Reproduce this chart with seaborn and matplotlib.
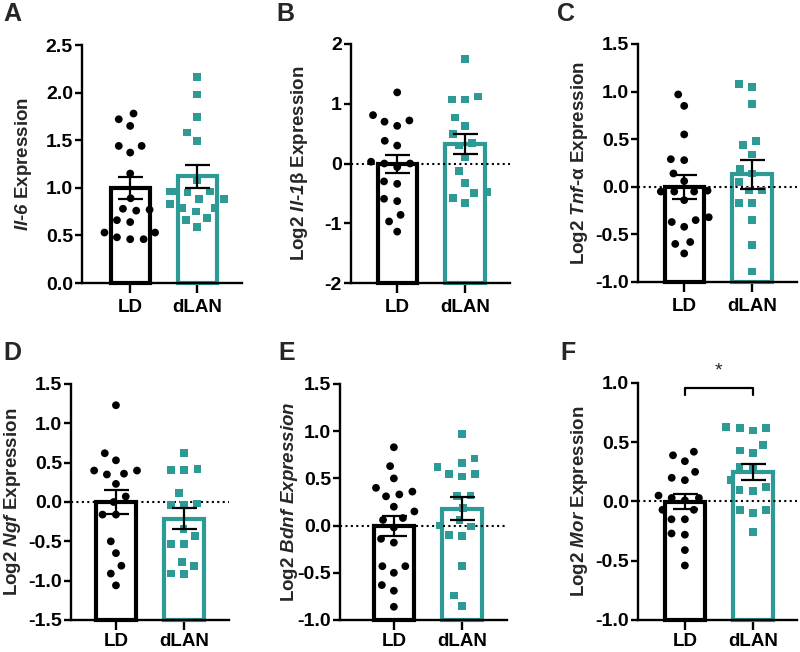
import numpy as np
import pandas as pd
import matplotlib
matplotlib.use("Agg")
import matplotlib.pyplot as plt
import seaborn as sns

sns.set_theme(style="ticks")
plt.rcParams['font.family'] = ['Liberation Sans', 'DejaVu Sans']
plt.rcParams['font.weight'] = 'bold'
plt.rcParams['axes.unicode_minus'] = False
plt.rcParams['mathtext.fontset'] = 'custom'
plt.rcParams['mathtext.rm'] = 'Liberation Sans'
plt.rcParams['mathtext.it'] = 'Liberation Sans:italic'
plt.rcParams['mathtext.bf'] = 'Liberation Sans:bold'
plt.rcParams['mathtext.bfit'] = 'Liberation Sans:bold:italic'

groups = ["LD", "dLAN"]
panel_letters = ["A", "B", "C", "D", "E", "F"]

# ---- data ----
a_ld = [1.78, 1.72, 1.65, 1.44, 1.44, 1.37, 1.15, 0.89, 0.78, 0.76, 0.77, 0.64, 0.66, 0.53, 0.53, 0.46, 0.46, 0.48]
a_dlan = [2.16, 1.98, 1.74, 1.58, 1.49, 1.08, 0.96, 0.96, 0.95, 0.96, 0.88, 0.88, 0.79, 0.79, 0.75, 0.83, 0.68, 0.66, 0.59]
b_ld = [1.19, 0.72, 0.81, 0.70, 0.63, 0.38, 0.30, 0.03, 0.0, 0.0, -0.06, -0.30, -0.34, -0.59, -0.63, -0.86, -0.97, -1.14]
b_dlan = [1.75, 1.12, 1.07, 1.07, 0.77, 0.63, 0.49, 0.30, 0.34, 0.11, -0.13, -0.32, -0.50, -0.48, -0.58, -0.66]
c_ld = [0.97, 0.85, 0.55, 0.29, 0.28, 0.14, 0.06, -0.04, -0.05, -0.05, -0.05, -0.14, -0.35, -0.32, -0.37, -0.42, -0.58, -0.60, -0.70]
c_dlan = [1.08, 1.05, 0.87, 0.48, 0.44, 0.34, 0.19, 0.14, 0.05, -0.04, -0.04, -0.17, -0.17, -0.35, -0.61, -0.89]
d_ld = [1.23, 0.62, 0.53, 0.40, 0.35, 0.36, 0.40, 0.23, 0.07, 0.0, -0.16, -0.16, -0.50, -0.65, -0.81, -0.91, -1.06]
d_dlan = [0.62, 0.41, 0.42, 0.41, 0.11, -0.02, -0.04, -0.04, -0.34, -0.43, -0.53, -0.53, -0.81, -0.76, -0.92, -0.91]
e_ld = [0.83, 0.63, 0.40, 0.50, 0.31, 0.36, 0.33, 0.20, 0.15, 0.08, 0.06, -0.02, -0.18, -0.14, -0.43, -0.43, -0.50, -0.63, -0.69, -0.86]
e_dlan = [0.97, 0.71, 0.66, 0.62, 0.52, 0.55, 0.55, 0.31, 0.32, 0.19, 0.06, 0.0, -0.01, -0.10, -0.11, -0.43, -0.74, -0.85]
f_ld = [0.39, 0.42, 0.34, 0.20, 0.25, 0.18, 0.05, 0.01, 0.03, 0.03, -0.07, -0.07, -0.15, -0.15, -0.28, -0.27, -0.41, -0.54]
f_dlan = [0.62, 0.60, 0.62, 0.63, 0.43, 0.48, 0.41, 0.28, 0.29, 0.18, 0.12, 0.09, 0.10, -0.07, -0.10, -0.07, -0.26]

means_ld = [1.00, -0.01, 0.00, 0.00, 0.00, 0.00]
means_dlan = [1.12, 0.33, 0.13, -0.21, 0.18, 0.25]
sem_ld = [0.115, 0.15, 0.125, 0.15, 0.105, 0.065]
sem_dlan = [0.12, 0.165, 0.15, 0.13, 0.12, 0.07]

ylabels = [
    r"$\mathbfit{Il}$-$\mathbfit{6}$ Expression",
    r"Log2 $\mathbfit{Il}$-$\mathbfit{1}$$\mathrm{\beta}$ Expression",
    r"Log2 $\mathbfit{Tnf}$-$\mathrm{\alpha}$ Expression",
    r"Log2 $\mathbfit{Ngf}$ Expression",
    r"Log2 $\mathbfit{Bdnf\ Expression}$",
    r"Log2 $\mathbfit{Mor}$ Expression",
]
ylims = [(0, 2.5), (-2, 2), (-1, 1.5), (-1.5, 1.5), (-1, 1.5), (-1, 1)]
yticks = [
    ["0.0", "0.5", "1.0", "1.5", "2.0", "2.5"],
    ["-2", "-1", "0", "1", "2"],
    ["-1.0", "-0.5", "0.0", "0.5", "1.0", "1.5"],
    ["-1.5", "-1.0", "-0.5", "0.0", "0.5", "1.0", "1.5"],
    ["-1.0", "-0.5", "0.0", "0.5", "1.0", "1.5"],
    ["-1.0", "-0.5", "0.0", "0.5", "1.0"],
]
ld_data = [a_ld, b_ld, c_ld, d_ld, e_ld, f_ld]
dlan_data = [a_dlan, b_dlan, c_dlan, d_dlan, e_dlan, f_dlan]

BLACK = "#000000"
TEAL = "#2E9A95"
palette = {"LD": BLACK, "dLAN": TEAL}

W, H = 800, 652
fig = plt.figure(figsize=(8, 6.52), dpi=100)

# axes rectangles in pixels: left, right, top, bottom
rects = [(82, 242, 45, 283), (351, 510, 44, 283), (638, 797, 44, 282),
         (71, 229, 384, 620), (340, 507, 384, 620), (638, 797, 383, 620)]
xlims = [(-0.72, 1.67), (-0.68, 1.66), (-0.68, 1.66), (-0.66, 1.66), (-0.79, 1.66), (-0.69, 1.65)]
xpads = [4.5, 4.5, 4.5, 2.0, 2.0, 2.0]
letter_pos = [(3, 21), (276, 21), (557, 21), (3, 360), (278, 360), (560, 360)]
ylabel_right = [34, 310, 590, 23, 300, 590]

for i in range(6):
    l, r, t, b = rects[i]
    ax = fig.add_axes([l / W, 1 - b / H, (r - l) / W, (b - t) / H])
    ymin = ylims[i][0]
    mdf = pd.DataFrame({"group": groups, "mean": [means_ld[i], means_dlan[i]]})
    sns.barplot(data=mdf, x="group", y="mean", hue="group", palette=palette,
                order=groups, hue_order=groups, legend=False, width=0.58,
                errorbar=None, ax=ax, zorder=1)
    for patch, g, m in zip(ax.patches, groups, [means_ld[i], means_dlan[i]]):
        patch.set_y(ymin)
        patch.set_height(m - ymin)
        patch.set_facecolor("white")
        patch.set_edgecolor(palette[g])
        patch.set_linewidth(3.0)
        patch.set_clip_on(False)
    if i > 0:
        ax.axhline(0, color="black", ls=(0, (1, 1.6)), lw=1.5, zorder=2)
    ld_df = pd.DataFrame({"group": ["LD"] * len(ld_data[i]), "val": ld_data[i]})
    dl_df = pd.DataFrame({"group": ["dLAN"] * len(dlan_data[i]), "val": dlan_data[i]})
    sns.swarmplot(data=ld_df, x="group", y="val", order=groups, color=BLACK,
                  marker="o", size=5.6, linewidth=3.6, edgecolor="none", ax=ax, zorder=3)
    sns.swarmplot(data=dl_df, x="group", y="val", order=groups, color=TEAL,
                  marker="s", size=5.6, linewidth=3.6, edgecolor="none", ax=ax, zorder=3)
    ax.errorbar([0, 1], [means_ld[i], means_dlan[i]], yerr=[sem_ld[i], sem_dlan[i]],
                fmt="none", ecolor="black", elinewidth=1.6, capsize=9, capthick=1.6, zorder=5)
    ax.set_xlim(*xlims[i])
    ax.set_ylim(*ylims[i])
    ticks = [float(s) for s in yticks[i]]
    ax.set_yticks(ticks)
    ax.set_yticklabels(yticks[i])
    ax.set_xlabel("")
    ax.set_ylabel(ylabels[i], fontsize=13.5, fontweight="bold")
    ax.yaxis.set_label_coords((ylabel_right[i] - l) / (r - l), 0.5)
    for s in ["top", "right"]:
        ax.spines[s].set_visible(False)
    for s in ["left", "bottom"]:
        ax.spines[s].set_linewidth(1.7)
        ax.spines[s].set_color("black")
    ax.tick_params(axis="both", width=1.7, color="black", labelcolor="black")
    ax.tick_params(axis="y", labelsize=14, length=5, pad=1.5)
    ax.tick_params(axis="x", labelsize=13.5, length=7, pad=xpads[i])
    for lab in ax.get_xticklabels() + ax.get_yticklabels():
        lab.set_fontweight("bold")
    ax.patch.set_alpha(0)
    fig.text(letter_pos[i][0] / W, 1 - letter_pos[i][1] / H, panel_letters[i],
             fontsize=18, fontweight="bold", ha="left", va="baseline")
    if i == 5:
        ax.plot([0, 0, 1, 1], [0.90, 0.96, 0.96, 0.90], color="black", lw=1.6,
                clip_on=False, zorder=6)
        ax.text(0.5, 1.03, "*", ha="center", va="bottom", fontsize=14,
                fontweight="normal", clip_on=False)

fig.savefig("out.png", dpi=100)
